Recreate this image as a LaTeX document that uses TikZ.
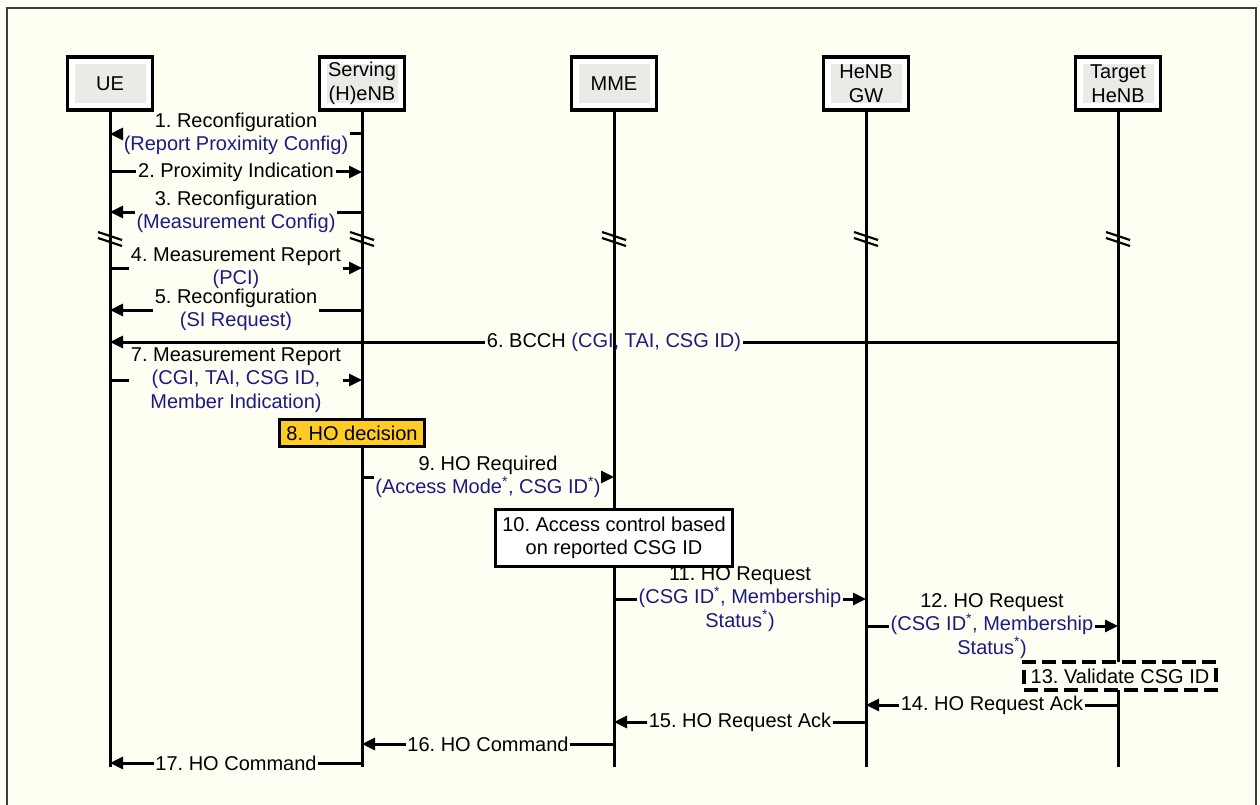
\documentclass[tikz,border=0pt]{standalone}
\usepackage{fontspec}
\setmainfont{Liberation Sans}
\usetikzlibrary{arrows.meta,calc}
\definecolor{paper}{RGB}{255,254,242}
\definecolor{navy}{RGB}{28,28,128}
\definecolor{hobox}{RGB}{255,204,36}
\definecolor{innergray}{RGB}{236,234,230}
\definecolor{frameline}{RGB}{60,60,60}
\frenchspacing

\begin{document}
\begin{tikzpicture}[x=1pt,y=-1pt,
  font=\fontsize{20}{23.5}\selectfont,
  actor/.style={draw, line width=3.5pt, fill=white, minimum width=85pt,
    minimum height=53pt, align=center, inner sep=0pt,
    path picture={\fill[innergray]
      ([shift={(7pt,-7pt)}]path picture bounding box.north west) rectangle
      ([shift={(-7pt,7pt)}]path picture bounding box.south east);}},
  lifeline/.style={line width=3pt},
  brk/.style={line width=2.2pt},
  seg/.style={line width=3pt},
  msg/.style={line width=3pt, -{Triangle[length=13pt,width=12pt]}},
  lbl/.style={align=center, inner sep=1.5pt},
  note/.style={draw, line width=3pt, align=center, inner sep=0pt}
]
\useasboundingbox (0,0) rectangle (1260,805);
\fill[paper] (0,0) rectangle (1260,805);
\draw[line width=2pt, draw=frameline] (7,8) rectangle (1256,840);

% participants
\node[actor] (ue)  at (110,83.5)  {UE};
\node[actor] (srv) at (362,83.5)  {Serving\\(H)eNB};
\node[actor] (mme) at (614,83.5)  {MME};
\node[actor] (gw)  at (866,83.5)  {HeNB\\GW};
\node[actor] (tgt) at (1118,83.5) {Target\\HeNB};

% lifelines with break marks
\coordinate (ueEnd)  at (110,767);
\coordinate (srvEnd) at (362,767);
\coordinate (mmeEnd) at (614,767);
\coordinate (gwEnd)  at (866,767);
\coordinate (tgtEnd) at (1118,767);
\foreach \n in {ue,srv,mme,gw,tgt}{
  \draw[lifeline] (\n.south) -- (\n End);
  \draw[brk] ($(\n.south |- 0,236)+(-12,-4)$) -- ++(24,8);
  \draw[brk] ($(\n.south |- 0,242)+(-12,-4)$) -- ++(24,8);
}

% 1
\node[lbl] (l1) at (236,134) {1. Reconfiguration\\\textcolor{navy}{(Report Proximity Config)}};
\draw[seg] (srv.south |- l1) -- (l1.east);
\draw[msg] (l1.west) -- (ue.south |- l1);
% 2
\node[lbl] (l2) at (236,172) {2. Proximity Indication};
\draw[seg] (ue.south |- l2) -- (l2.west);
\draw[msg] (l2.east) -- (srv.south |- l2);
% 3
\node[lbl] (l3) at (236,212) {3. Reconfiguration\\\textcolor{navy}{(Measurement Config)}};
\draw[seg] (srv.south |- l3) -- (l3.east);
\draw[msg] (l3.west) -- (ue.south |- l3);
% 4
\node[lbl] (l4) at (236,268) {4. Measurement Report\\\textcolor{navy}{(PCI)}};
\draw[seg] (ue.south |- l4) -- (l4.west);
\draw[msg] (l4.east) -- (srv.south |- l4);
% 5
\node[lbl] (l5) at (236,310) {5. Reconfiguration\\\textcolor{navy}{(SI Request)}};
\draw[seg] (srv.south |- l5) -- (l5.east);
\draw[msg] (l5.west) -- (ue.south |- l5);
% 6
\node[lbl] (l6) at (614,342) {6. BCCH \textcolor{navy}{(CGI, TAI, CSG ID)}};
\draw[seg] (tgt.south |- l6) -- (l6.east);
\draw[msg] (l6.west) -- (ue.south |- l6);
% 7
\node[lbl] (l7) at (236,380) {7. Measurement Report\\\textcolor{navy}{(CGI, TAI, CSG ID,}\\\textcolor{navy}{Member Indication)}};
\draw[seg] (ue.south |- l7) -- (l7.west);
\draw[msg] (l7.east) -- (srv.south |- l7);
% 8
\node[note, line width=2.5pt, fill=hobox, minimum width=145pt, minimum height=27pt] (hod) at (352,433) {8. HO decision};
% 9
\node[lbl] (l9) at (488,477) {9. HO Required\\\textcolor{navy}{(Access Mode\textsuperscript{*}, CSG ID\textsuperscript{*})}};
\draw[seg] (srv.south |- l9) -- (l9.west);
\draw[msg] (l9.east) -- (mme.south |- l9);
% 10
\node[note, fill=white, minimum width=237pt, minimum height=57pt] (acc) at (614,538) {10. Access control based\\on reported CSG ID};
% 11
\node[lbl] (l11) at (740,599) {11. HO Request\\\textcolor{navy}{(CSG ID\textsuperscript{*}, Membership}\\\textcolor{navy}{Status\textsuperscript{*})}};
\draw[seg] (mme.south |- l11) -- (l11.west);
\draw[msg] (l11.east) -- (gw.south |- l11);
% 12
\node[lbl] (l12) at (992,626) {12. HO Request\\\textcolor{navy}{(CSG ID\textsuperscript{*}, Membership}\\\textcolor{navy}{Status\textsuperscript{*})}};
\draw[seg] (gw.south |- l12) -- (l12.west);
\draw[msg] (l12.east) -- (tgt.south |- l12);
% 13
\node[note, line width=3.5pt, dash pattern=on 14pt off 6pt, fill=paper, minimum width=192pt, minimum height=28pt] (val) at (1120,676) {13. Validate CSG ID};
% 14
\node[lbl] (l14) at (992,705) {14. HO Request Ack};
\draw[seg] (tgt.south |- l14) -- (l14.east);
\draw[msg] (l14.west) -- (gw.south |- l14);
% 15
\node[lbl] (l15) at (740,722) {15. HO Request Ack};
\draw[seg] (gw.south |- l15) -- (l15.east);
\draw[msg] (l15.west) -- (mme.south |- l15);
% 16
\node[lbl] (l16) at (488,744) {16. HO Command};
\draw[seg] (mme.south |- l16) -- (l16.east);
\draw[msg] (l16.west) -- (srv.south |- l16);
% 17
\node[lbl] (l17) at (236,763) {17. HO Command};
\draw[seg] (srv.south |- l17) -- (l17.east);
\draw[msg] (l17.west) -- (ue.south |- l17);
\end{tikzpicture}
\end{document}
